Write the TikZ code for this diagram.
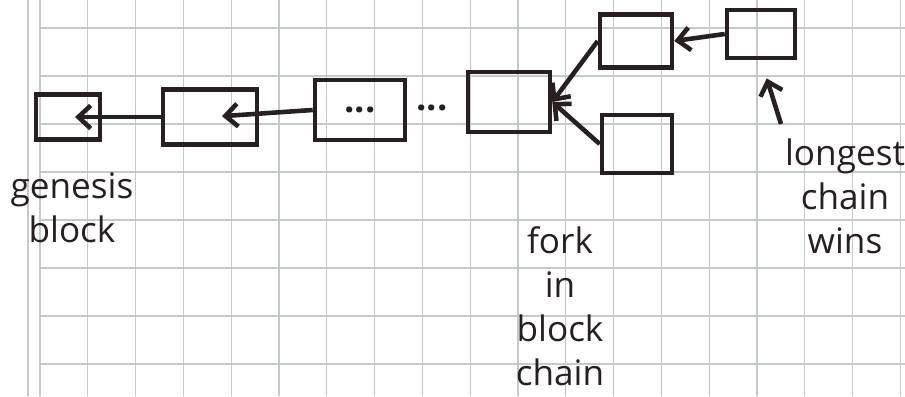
\documentclass[tikz,border=0pt]{standalone}
\usepackage{fontspec}
\setmainfont{Open Sans}
\usetikzlibrary{arrows.meta}
\definecolor{ink}{RGB}{40,32,32}
\definecolor{paper}{RGB}{196,201,201}
\tikzset{>={Straight Barb[length=7pt,width=13pt]},
every block/.style={draw=ink, line width=2.6pt, inner sep=0pt},
block/.style={every block, minimum width=#1},
note/.style={text=ink, align=center, font=\fontsize{20}{25}\selectfont},
dots/.style={text=ink, font=\huge\bfseries},
grid line/.style={draw=paper, line width=0.6pt},
}

\begin{document}
\begin{tikzpicture}[x=0.02cm, y=-0.02cm]
\useasboundingbox (0,0) rectangle (905,396);
    % squared paper
    \draw[grid line] (28,0) -- (28,396);
    \foreach \i in {0,...,18}
        \draw[grid line] ({40+47.8*\i},0) -- ({40+47.8*\i},396);
    \foreach \j in {0,...,7}
        \draw[grid line] (40,{28+48*\j}) -- (905,{28+48*\j});

    \node[block=1.28cm, minimum height=0.9cm] (gen) at (68,117) {};
    \node[block=1.88cm, minimum height=1.1cm] (b1) at (210,117) {};
    \node[block=1.8cm, minimum height=1.2cm, dots] (b2) at (360,110) {...};
    \node[dots] (gap) at (432,108) {...};
    \node[block=1.64cm, minimum height=1.2cm] (fork) at (509,102) {};

    \node[block=1.44cm, minimum height=1.06cm] (top) at (636,41) {};
    \node[block=1.36cm, minimum height=0.96cm] (topr) at (761,34) {};
    \node[block=1.4cm, minimum height=1.16cm] (low) at (637,144) {};

    \node[note] (gen lbl) at (72,208) {genesis\\block};
    \node[note] (fork lbl) at (560,306) {fork\\in\\block\\chain};
    \node[note] (win lbl) at (845,196) {longest\\chain\\wins};
    \coordinate (win tail) at (781,124);

    \draw[ink, line width=2.6pt]
    (b1.west) edge[->, shorten >=0.14cm] (gen.center)
    (b2.west) edge[->, shorten >=0.24cm] (b1.center)
    (top.west) edge[->] (fork.east)
    (low.west) edge[->] (fork.east)
    (topr.west) edge[->] (top.east)
    (win tail) edge[->, shorten >=0.38cm] (topr.south)
    ;
\end{tikzpicture}
\end{document}
